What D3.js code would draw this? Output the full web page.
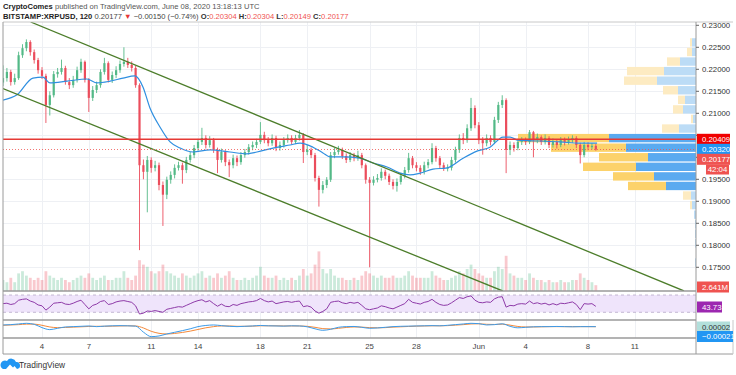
<!DOCTYPE html>
<html>
<head>
<meta charset="utf-8">
<script src="https://cdn.jsdelivr.net/npm/d3@7"></script>
<style>
body{margin:0;background:#fff;}
svg{display:block;font-family:"Liberation Sans",Arial,sans-serif;}
</style>
</head>
<body>
<svg id="chart" width="736" height="375"></svg>
<script>
// ---- data (6h candles from May 1 12:00 UTC) ----
var firstOpen = 0.2170;
var closes = [
 .2180,.2194,.2171,.2180,.2232,.2248,.2262,.2239,.2221,.2198,
 .2185,.2119,.2141,.2189,.2194,.2203,.2171,.2164,.2176,.2198,
 .2217,.2176,.2135,.2153,.2164,.2194,.2214,.2176,.2187,.2198,
 .2212,.2217,.2210,.2203,.2164,.1982,.1967,.1994,.1976,.1982,
 .1937,.1915,.1949,.1960,.1976,.1982,.1971,.1994,.2005,.2021,
 .2035,.2044,.2028,.2039,.2017,.1994,.2012,.1989,.1982,.1998,
 .1989,.2005,.2012,.2023,.2028,.2035,.2051,.2039,.2032,.2044,
 .2021,.2028,.2039,.2044,.2035,.2044,.2051,.2012,.2017,.2005,
 .1953,.1926,.1937,.1949,.2005,.2012,.2017,.2003,.1994,.2005,
 .1998,.2005,.1982,.1949,.1942,.1949,.1953,.1967,.1958,.1944,
 .1935,.1944,.1958,.1971,.1998,.1982,.1976,.1967,.1982,.1989,
 .2021,.1998,.1982,.1976,.1976,.1994,.2017,.2044,.2039,.2066,
 .2112,.2073,.2039,.2032,.2044,.2035,.2085,.2119,.2130,.2017,
 .2028,.2021,.2035,.2039,.2035,.2057,.2039,.2046,.2035,.2044,
 .2028,.2035,.2028,.2039,.2035,.2039,.2044,.2028,.2005,.2028,
 .2023,.2026,.20177];
var highs = [
 .2209,.2203,.2199,.2190,.2240,.2257,.2268,.2266,.2245,.2226,
 .2205,.2190,.2150,.2196,.2203,.2222,.2208,.2180,.2185,.2206,
 .2224,.2220,.2180,.2162,.2172,.2200,.2226,.2218,.2195,.2207,
 .2220,.2250,.2226,.2218,.2208,.2168,.1995,.2003,.2000,.1992,
 .1988,.1945,.1956,.1968,.1984,.1990,.1988,.2001,.2012,.2028,
 .2042,.2067,.2050,.2048,.2044,.2022,.2020,.2016,.1995,.2006,
 .2004,.2012,.2019,.2030,.2036,.2042,.2080,.2058,.2046,.2052,
 .2049,.2036,.2046,.2052,.2050,.2051,.2062,.2055,.2028,.2022,
 .2010,.1958,.1946,.1955,.2012,.2021,.2026,.2022,.2009,.2012,
 .2010,.2015,.2010,.1986,.1955,.1957,.1962,.1975,.1972,.1963,
 .1950,.1952,.1965,.1978,.2010,.2003,.1989,.1982,.1990,.1996,
 .2032,.2026,.2003,.1988,.1984,.2001,.2024,.2052,.2055,.2075,
 .2135,.2118,.2080,.2046,.2052,.2050,.2092,.2126,.2141,.2134,
 .2036,.2034,.2042,.2046,.2045,.2062,.2060,.2054,.2050,.2052,
 .2048,.2043,.2040,.2046,.2045,.2047,.2050,.2048,.2033,.2035,
 .2034,.2032,.2030];
var lows = [
 .2162,.2172,.2163,.2165,.2176,.2226,.2241,.2231,.2213,.2190,
 .2178,.2078,.2095,.2136,.2181,.2188,.2165,.2155,.2158,.2170,
 .2192,.2170,.2103,.2128,.2146,.2158,.2188,.2170,.2169,.2180,
 .2192,.2206,.2203,.2195,.2158,.1789,.1950,.1875,.1965,.1968,
 .1925,.1844,.1905,.1940,.1952,.1970,.1940,.1964,.1988,.1998,
 .2015,.2028,.2020,.2022,.2010,.1964,.1988,.1980,.1955,.1975,
 .1980,.1983,.1999,.2006,.2016,.2021,.2030,.2032,.2025,.2026,
 .2014,.2015,.2022,.2033,.2029,.2030,.2038,.1987,.2005,.1998,
 .1945,.1888,.1918,.1930,.1944,.1998,.2006,.1996,.1987,.1989,
 .1991,.1992,.1975,.1940,.1750,.1936,.1943,.1947,.1950,.1937,
 .1927,.1922,.1938,.1952,.1965,.1975,.1968,.1960,.1961,.1975,
 .1984,.1990,.1975,.1969,.1968,.1970,.1988,.2010,.2030,.2033,
 .2060,.2066,.2030,.2006,.2025,.2027,.2030,.2078,.2112,.1964,
 .2005,.2013,.2016,.2028,.2028,.2030,.2000,.2032,.2028,.2029,
 .2021,.2022,.2020,.2023,.2027,.2029,.2033,.2021,.1986,.2000,
 .2016,.2018,.2015];
var volumes = [
 5,4,6,4,8,9,7,6,5,6, 5,9,7,6,5,6,5,4,5,6, 7,6,8,6,5,6,7,5,5,6,
 6,9,6,5,7,14,12,11,9,8, 9,12,9,8,7,6,8,7,6,7, 8,9,6,7,6,8,6,7,9,6,
 5,5,6,5,6,7,11,7,6,6, 7,5,6,5,6,5,7,10,7,8, 12,18,10,8,10,7,6,6,5,5,
 6,5,7,9,8,7,6,7,6,6, 7,6,6,7,9,7,6,6,6,6, 9,7,6,5,5,6,7,9,8,10,
 12,10,8,7,6,6,9,11,10,16, 8,7,6,6,5,8,6,5,5,4, 5,4,4,5,4,4,5,5,8,6,
 5,4,2.641];
var rsiVals = [
 50,51,48,50,58,60,61,56,53,47, 45,35,42,51,52,53,49,48,51,55,
 58,48,38,46,49,55,57,48,50,54, 56,57,55,53,45,26,28,33,32,34,
 32,30,37,39,41,43,42,46,50,54, 57,59,54,57,50,44,49,44,43,48,
 46,50,52,54,55,57,62,57,54,56, 50,52,54,55,53,55,56,43,45,42,
 33,28,32,38,53,55,56,52,50,53, 51,53,46,38,36,38,40,45,43,40,
 38,42,46,50,60,53,51,49,53,55, 60,53,48,46,47,52,58,64,62,66,
 68,58,53,52,54,53,61,65,66,42, 46,45,49,50,49,56,50,52,49,51,
 47,50,47,51,50,52,54,48,36,50, 49,50,43.73];

// moving average (day of May, price)
var maDays = [1.5,2.4,3.42,4.06,4.51,5.6,6.88,7.53,8.36,9.19,9.96,10.47,10.92,11.56,12.21,12.85,
 13.68,14.77,16.05,17.14,17.78,18.81,19.9,20.54,21.37,22.01,22.46,23.29,24.38,25.22,26.12,26.95,
 27.59,28.23,29.06,29.96,30.99,31.88,32.72,33.55,34.0,34.51,35.92,37.21,38.49,39.58];
var maVals = [.2130,.2142,.2180,.2182,.2169,.2173,.2178,.2169,.2173,.2180,.2185,.2160,.2112,.2069,.2035,.2021,
 .2012,.2017,.2012,.2008,.2012,.2021,.2028,.2032,.2023,.2010,.2001,.2001,.1998,.1987,.1978,.1964,
 .1960,.1964,.1973,.1976,.1998,.2014,.2023,.2046,.2046,.2039,.2037,.2035,.2032,.2032];

// MACD / signal, every half day from May 1.5
var macdStart = 1.5;
var macdVals = [.0008,.0010,.0014,.0018,.0012,-.0008,-.0020,-.0012,-.0004,-.0002,
 0,.0002,-.0002,.0001,.0003,.0004,.0003,.0001,-.0035,-.0062,
 -.0058,-.0046,-.0036,-.0026,-.0015,-.0002,.0005,.0008,.0004,0,
 -.0002,0,.0002,.0005,.0003,.0002,.0001,.0003,.0002,-.0003,
 -.0015,-.0024,-.0018,-.0006,-.0002,-.0001,-.0006,-.0012,-.0010,-.0006,
 -.0002,0,.0001,.0002,.0003,.0004,.0003,.0006,.0010,.0014,
 .0018,.0016,.0008,.0010,.0015,0,-.0009,-.0006,-.0003,-.0002,
 -.0002,-.0001,-.0002,-.0003,-.0002,-.0002,-.00021];
var signalVals = [.0006,.0008,.0010,.0013,.0013,.0006,-.0004,-.0008,-.0007,-.0005,
 -.0003,-.0001,0,0,.0001,.0002,.0003,.0002,-.0010,-.0030,
 -.0042,-.0046,-.0043,-.0037,-.0029,-.0019,-.0009,-.0002,.0002,.0002,
 0,0,.0001,.0003,.0003,.0003,.0002,.0002,.0002,0,
 -.0006,-.0014,-.0016,-.0012,-.0007,-.0004,-.0005,-.0008,-.0009,-.0008,
 -.0005,-.0003,-.0001,.0001,.0002,.0003,.0003,.0004,.0007,.0010,
 .0014,.0015,.0012,.0011,.0013,.0007,-.0001,-.0004,-.0004,-.0003,
 -.0002,-.0002,-.0002,-.0002,-.0002,-.0002,-.00023];

// trend channel (day of May, price)
var upperTrend = [[3.27,.23075],[45.15,.16962]];
var lowerTrend = [[1.5,.21561],[33.53,.16962]];
var levelPrice = 0.20409;
var lastPrice = 0.20177;
var maLast = 0.20320;

// visible range volume profile, rows top to bottom
var vpTop = 0.2272, vpBottom = 0.1750;
var vpUp =   [2,2,8,16,19.5,9,5.5,6.5,1.5,8.5,43.5,35,24,30,21,15,2.5,2,1,0.5,0.5,0.5,0,0.5];
var vpDown = [1,2.5,6.5,18.5,16.5,7.5,3.5,5,1,8.5,45.5,37.5,24.5,26.5,20.5,19,4,1,0,0,0,0,0,0];
var vaTop = 0.2054, vaBottom = 0.1924;

var priceTicks = [0.230,0.225,0.220,0.215,0.210,0.205,0.200,0.195,0.190,0.185,0.180,0.175];
var tickDays = [4,7,11,14,18,21,25,28,32,35,39,42];
var tickLabels = ["4","7","11","14","18","21","25","28","Jun","4","8","11"];

// ---- helpers ----
var dayDate = function(d){ return new Date(Date.UTC(2020,4,1) + (d-1)*864e5); };
var candles = closes.map(function(c,i){
    return {t:new Date(Date.UTC(2020,4,1,12) + i*6*3600e3),
            o: i==0 ? firstOpen : closes[i-1], h:highs[i], l:lows[i], c:c, v:volumes[i], rsi:rsiVals[i]};
});

var pane = {left:3, right:696, top:22, mainBottom:291, rsiBottom:320, macdBottom:338, axisBottom:354};

var x = d3.scaleUtc()
    .domain([new Date(Date.UTC(2020,4,1,12)), new Date(Date.UTC(2020,5,14,22,5))])
    .range([pane.left, pane.right]);
var y = d3.scaleLinear().domain([0.23,0.175]).range([25.3,267.3]);
var yVol = d3.scaleLinear().domain([0,20]).range([0,44]);
var yRsi = d3.scaleLinear().domain([70,30]).range([295,312.3]);
var yMacd = d3.scaleLinear().domain([0,-0.006]).range([326.3,336.3]);
var vpW = d3.scaleLinear().domain([0,89]).range([0,178]);

var upCol = "#53b987", downCol = "#eb4d5c";

var svg = d3.select("#chart");
var defs = svg.append("defs");
var addClip = function(id, y0, y1){
    defs.append("clipPath").attr("id",id).append("rect")
        .attr("x",pane.left).attr("y",y0).attr("width",pane.right-pane.left).attr("height",y1-y0);
};
addClip("cMain", pane.top, pane.mainBottom);
addClip("cRsi", pane.mainBottom, pane.rsiBottom);
addClip("cMacd", pane.rsiBottom, pane.macdBottom);

// ---- header ----
var head = svg.append("g").attr("font-size","7.6px");
var t1 = head.append("text").attr("x",3).attr("y",9).attr("fill","#555");
t1.append("tspan").attr("font-weight","bold").attr("fill","#222").text("CryptoComes");
t1.append("tspan").text(" published on TradingView.com, June 08, 2020 13:18:13 UTC");
var t2 = head.append("text").attr("x",3).attr("y",19).attr("fill","#444");
t2.append("tspan").attr("font-weight","bold").attr("fill","#222").text("BITSTAMP:XRPUSD, 120");
t2.append("tspan").text(" 0.20177 ");
t2.append("tspan").attr("fill","#e53935").text("▼");
t2.append("tspan").text(" −0.00150 (−0.74%) ");
[["O:","0.20304"],["H:","0.20304"],["L:","0.20149"],["C:","0.20177"]].forEach(function(p){
    t2.append("tspan").attr("font-weight","bold").attr("fill","#333").text(p[0]);
    t2.append("tspan").attr("fill","#ef5350").text(p[1]+" ");
});

// ---- grid ----
var grid = svg.append("g").attr("stroke","#eef0f4").attr("stroke-width",1);
grid.selectAll(".hg").data(priceTicks).enter().append("line")
    .attr("x1",pane.left).attr("x2",pane.right)
    .attr("y1",function(d){return Math.round(y(d))+0.5;}).attr("y2",function(d){return Math.round(y(d))+0.5;});
grid.selectAll(".vg").data(tickDays).enter().append("line")
    .attr("x1",function(d){return Math.round(x(dayDate(d)))+0.5;})
    .attr("x2",function(d){return Math.round(x(dayDate(d)))+0.5;})
    .attr("y1",pane.top).attr("y2",pane.macdBottom);

// ---- main pane ----
var main = svg.append("g").attr("clip-path","url(#cMain)");

// volume profile
var rowH = (y(vpBottom)-y(vpTop))/vpUp.length;
var vp = main.append("g");
vpUp.forEach(function(u,k){
    var d = vpDown[k];
    var top = y(vpTop) + k*rowH;
    var mid = vpTop - (k+0.5)*(vpTop-vpBottom)/vpUp.length;
    var inVa = mid <= vaTop && mid >= vaBottom;
    vp.append("rect").attr("x",pane.right-vpW(u)).attr("y",top+0.6)
        .attr("width",vpW(u)).attr("height",rowH-1.2)
        .attr("fill", inVa ? "#5aaaf0" : "#bcdcf6");
    vp.append("rect").attr("x",pane.right-vpW(u)-vpW(d)).attr("y",top+0.6)
        .attr("width",vpW(d)).attr("height",rowH-1.2)
        .attr("fill", inVa ? "#fcd26b" : "#fdebc2");
});

// volume bars
main.append("g").selectAll("rect").data(candles).enter().append("rect")
    .attr("x",function(d){return x(d.t)-1.4;}).attr("width",2.8)
    .attr("y",function(d){return pane.mainBottom-yVol(d.v);})
    .attr("height",function(d){return yVol(d.v);})
    .attr("fill",function(d){return d.c>=d.o ? upCol : downCol;})
    .attr("opacity",0.3);

// candles
var cg = main.append("g").selectAll("g").data(candles).enter().append("g")
    .attr("fill",function(d){return d.c>=d.o ? upCol : downCol;})
    .attr("stroke",function(d){return d.c>=d.o ? upCol : downCol;});
cg.append("line")
    .attr("x1",function(d){return x(d.t);}).attr("x2",function(d){return x(d.t);})
    .attr("y1",function(d){return y(Math.max(d.h,d.o,d.c));})
    .attr("y2",function(d){return y(Math.min(d.l,d.o,d.c));})
    .attr("stroke-width",0.9);
cg.append("rect")
    .attr("x",function(d){return x(d.t)-1.1;}).attr("width",2.2)
    .attr("y",function(d){return y(Math.max(d.o,d.c));})
    .attr("height",function(d){return Math.max(0.8, Math.abs(y(d.o)-y(d.c)));})
    .attr("stroke","none");

// moving average
main.append("path")
    .datum(maDays.map(function(d,i){return [x(dayDate(d)), y(maVals[i])];}))
    .attr("d",d3.line().curve(d3.curveMonotoneX))
    .attr("fill","none").attr("stroke","#2f8fe0").attr("stroke-width",1.2);

// trend channel
[upperTrend, lowerTrend].forEach(function(tl){
    main.append("line")
        .attr("x1",x(dayDate(tl[0][0]))).attr("y1",y(tl[0][1]))
        .attr("x2",x(dayDate(tl[1][0]))).attr("y2",y(tl[1][1]))
        .attr("stroke","#4c7d2a").attr("stroke-width",1.3);
});

// horizontal level and last price line
main.append("line").attr("x1",pane.left).attr("x2",pane.right)
    .attr("y1",y(levelPrice)).attr("y2",y(levelPrice))
    .attr("stroke","#e53935").attr("stroke-width",1.5);
main.append("line").attr("x1",pane.left).attr("x2",pane.right)
    .attr("y1",y(lastPrice)).attr("y2",y(lastPrice))
    .attr("stroke","#ef5350").attr("stroke-width",0.8).attr("stroke-dasharray","1,2");

// ---- RSI pane ----
var rsiG = svg.append("g").attr("clip-path","url(#cRsi)");
rsiG.append("rect").attr("x",pane.left).attr("width",pane.right-pane.left)
    .attr("y",yRsi(70)).attr("height",yRsi(30)-yRsi(70)).attr("fill","#efe4fb");
[70,30].forEach(function(v){
    rsiG.append("line").attr("x1",pane.left).attr("x2",pane.right)
        .attr("y1",yRsi(v)).attr("y2",yRsi(v))
        .attr("stroke","#b8a8c8").attr("stroke-width",0.8).attr("stroke-dasharray","3,3");
});
rsiG.append("path").datum(candles)
    .attr("d",d3.line().x(function(d){return x(d.t);}).y(function(d){return yRsi(d.rsi);}))
    .attr("fill","none").attr("stroke","#8e3aa8").attr("stroke-width",1);

// ---- MACD pane ----
var macdG = svg.append("g").attr("clip-path","url(#cMacd)");
var macdLine = d3.line().curve(d3.curveMonotoneX)
    .x(function(d,i){return x(dayDate(macdStart+i*0.5));}).y(function(d){return yMacd(d);});
macdG.append("path").datum(signalVals).attr("d",macdLine)
    .attr("fill","none").attr("stroke","#f4893a").attr("stroke-width",1);
macdG.append("path").datum(macdVals).attr("d",macdLine)
    .attr("fill","none").attr("stroke","#3d9be9").attr("stroke-width",1);

// ---- frames ----
var fr = svg.append("g").attr("stroke","#9a9a9a").attr("fill","none");
fr.append("line").attr("x1",pane.left).attr("x2",733).attr("y1",pane.top).attr("y2",pane.top).attr("stroke","#c8c8c8");
[pane.mainBottom, pane.rsiBottom, pane.macdBottom].forEach(function(v){
    fr.append("line").attr("x1",pane.left).attr("x2",pane.right).attr("y1",v).attr("y2",v).attr("stroke-width",1.3);
});
fr.append("line").attr("x1",pane.left).attr("x2",pane.left).attr("y1",pane.top).attr("y2",pane.axisBottom);
fr.append("line").attr("x1",pane.right).attr("x2",pane.right).attr("y1",pane.top).attr("y2",pane.axisBottom);
fr.append("line").attr("x1",pane.left).attr("x2",733).attr("y1",pane.axisBottom).attr("y2",pane.axisBottom);
fr.append("line").attr("x1",733).attr("x2",733).attr("y1",pane.rsiBottom).attr("y2",pane.axisBottom).attr("stroke","#c8c8c8");

// ---- price axis (labels hidden where the value boxes cover them) ----
var boxYs = [139.3,149.3,159.3,169.5];
var shownTicks = priceTicks.filter(function(p){
    return boxYs.every(function(b){ return Math.abs(y(p)-b) > 9; });
});
var pa = svg.append("g").attr("font-size","7.8px").attr("fill","#333");
pa.selectAll("text").data(shownTicks).enter().append("text")
    .attr("x",702).attr("y",function(d){return y(d)+2.8;})
    .text(d3.format(".5f"));
pa.selectAll("line").data(priceTicks).enter().append("line")
    .attr("x1",pane.right).attr("x2",pane.right+3)
    .attr("y1",function(d){return y(d);}).attr("y2",function(d){return y(d);})
    .attr("stroke","#666");

// ---- time axis ----
svg.append("g").attr("font-size","7.8px").attr("fill","#444").attr("text-anchor","middle")
    .selectAll("text").data(tickDays).enter().append("text")
    .attr("x",function(d){return x(dayDate(d));}).attr("y",349)
    .text(function(d,i){return tickLabels[i];});

// ---- value labels on the right ----
var box = function(cy, txt, bg, fg, w){
    var g = svg.append("g");
    g.append("rect").attr("x",697).attr("y",cy-5.5).attr("width",w).attr("height",11).attr("fill",bg);
    g.append("text").attr("x",702).attr("y",cy+2.8).attr("font-size","7.8px").attr("fill",fg).text(txt);
};
box(139.3, d3.format(".5f")(levelPrice), "#f00000", "#fff", 33);
box(149.3, d3.format(".5f")(maLast), "#2196f3", "#fff", 33);
box(159.3, d3.format(".5f")(lastPrice), "#ef5350", "#fff", 33);
svg.append("rect").attr("x",706).attr("y",164.5).attr("width",23).attr("height",10).attr("fill","#ef5350");
svg.append("text").attr("x",717.5).attr("y",172).attr("text-anchor","middle").attr("font-size","7.8px").attr("fill","#fff").text("42:04");
box(287, "2.641M", "#ef5350", "#fff", 32);
box(307, rsiVals[rsiVals.length-1].toFixed(2), "#9c27b0", "#fff", 25);
box(327, "0.00002", "#b2dfdb", "#333", 33);
box(336.5, "−0.00021", "#2196f3", "#fff", 36);

// ---- footer logo ----
var logo = svg.append("g");
logo.append("path")
    .attr("d","M3,369 L17,369 A3.5,3.5 0 0 0 16,362 A5,5 0 0 0 7,361 A4,4 0 0 0 3,369 Z")
    .attr("fill","#2196f3");
logo.append("path").attr("d","M6,369 L10,364.5 L13,367.5 L14.5,366 L17,369 Z").attr("fill","#fff");
logo.append("text").attr("x",19).attr("y",368).attr("font-size","8.4px").attr("fill","#333").text("TradingView");
</script>
</body>
</html>
